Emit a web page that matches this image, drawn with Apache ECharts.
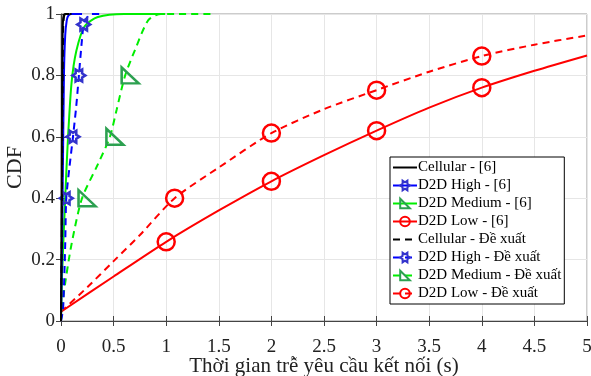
<!DOCTYPE html>
<html>
<head>
<meta charset="utf-8">
<script src="https://cdn.jsdelivr.net/npm/echarts@6/dist/echarts.min.js"></script>
<style>
html, body { margin: 0; padding: 0; background: #fff; }
#main { width: 591px; height: 376px; }
</style>
</head>
<body>
<div id="main"></div>
<script>
var myChart = echarts.init(document.getElementById('main'));

var xTicks = [0, 0.5, 1, 1.5, 2, 2.5, 3, 3.5, 4, 4.5, 5];
var yTicks = [0, 0.2, 0.4, 0.6, 0.8, 1];

var names = [
    'Cellular - [6]',
    'D2D High - [6]',
    'D2D Medium - [6]',
    'D2D Low - [6]',
    'Cellular - Đề xuất',
    'D2D High - Đề xuất',
    'D2D Medium - Đề xuất',
    'D2D Low - Đề xuất'
];

// cac duong CDF [x, y]
var cellRef = [[0, 0], [0.005, 0.3], [0.01, 0.7], [0.016, 0.95], [0.025, 0.995], [0.04, 1], [0.08, 1]];
var highRef = [[0, 0], [0.015, 0.4], [0.028, 0.8], [0.04, 0.93], [0.055, 0.98], [0.07, 0.995], [0.1, 1], [0.2, 1]];
var medRef = [[0, 0], [0.01, 0.15], [0.035, 0.36], [0.05, 0.48], [0.067, 0.6], [0.1, 0.775], [0.146, 0.88],
    [0.225, 0.96], [0.35, 0.99], [0.6, 1], [0.99, 1]];
var lowRef = [[0, 0.03], [0.5, 0.145], [1, 0.258], [1.5, 0.36], [2, 0.455], [2.5, 0.54], [3, 0.62],
    [3.5, 0.695], [4, 0.76], [4.5, 0.815], [5, 0.865]];

var cellNew = [[0, 0], [0.008, 0.3], [0.014, 0.7], [0.02, 0.95], [0.03, 0.995], [0.05, 1], [0.1, 1]];
var highNew = [[0, 0], [0.02, 0.04], [0.04, 0.25], [0.05, 0.4], [0.08, 0.5], [0.114, 0.6], [0.145, 0.7],
    [0.17, 0.8], [0.195, 0.9], [0.216, 0.966], [0.25, 0.99], [0.28, 1], [0.38, 1]];
var medNew = [[0, 0], [0.03, 0.1], [0.1, 0.25], [0.2, 0.4], [0.35, 0.51], [0.465, 0.6], [0.53, 0.69],
    [0.61, 0.8], [0.7, 0.88], [0.83, 0.98], [0.95, 1], [1.45, 1]];
var lowNew = [[0, 0.03], [0.25, 0.11], [0.5, 0.195], [0.75, 0.28], [1.08, 0.4], [1.5, 0.5], [2, 0.612],
    [2.5, 0.69], [3, 0.752], [3.5, 0.812], [4, 0.863], [4.5, 0.9], [5, 0.93]];

// vi tri marker (chi so diem)
var marks = [[], [], [], [2, 4, 6, 8], [], [3, 5, 7, 9], [3, 5, 7], [4, 6, 8, 10]];

var lines = [cellRef, highRef, medRef, lowRef, cellNew, highNew, medNew, lowNew];
var lineColors = ['#000000', '#0000ff', '#00ee00', '#ff0000', '#000000', '#0000ff', '#00ee00', '#ff0000'];
var markColors = ['#000000', '#3333cc', '#2ca050', '#ff0000', '#000000', '#3333cc', '#2ca050', '#ff0000'];

var star = 'path://M10,0 L5,2.89 L5,8.66 L0,5.77 L-5,8.66 L-5,2.89 L-10,0 L-5,-2.89 L-5,-8.66 L0,-5.77 L5,-8.66 L5,-2.89 Z';
var tri = 'path://M0,0 L0,10 L10,10 Z';
var symbols = ['none', star, tri, 'circle', 'none', star, tri, 'circle'];
var sizes = [0, [13, 12], [17, 16], 17, 0, [13, 12], [17, 16], 17];
var offsets = [0, 0, 5, 0, 0, 0, 5, 0];

var series = [];
for (var i = 0; i < 8; i++) {
    var pts = lines[i].map(function (p, j) {
        var m = marks[i].indexOf(j) >= 0;
        return { value: p, symbol: m ? symbols[i] : 'none' };
    });
    series.push({
        name: names[i],
        type: 'line',
        data: pts,
        smooth: 0.25,
        showAllSymbol: true,
        symbol: symbols[i],
        symbolSize: sizes[i],
        symbolOffset: [offsets[i], 0],
        z: 10 - (i % 4),
        lineStyle: { color: lineColors[i], width: 2, type: i >= 4 ? [7, 5] : 'solid' },
        itemStyle: { color: 'rgba(255,255,255,0)', borderColor: markColors[i], borderWidth: 2.5 },
        emphasis: { disabled: true }
    });
}

var legendData = names.map(function (n, i) {
    if (i % 4 === 0) {
        return { name: n, itemStyle: { color: 'rgba(0,0,0,0)', borderWidth: 0 } };
    }
    return { name: n };
});

var option = {
    backgroundColor: '#fff',
    animation: false,
    textStyle: { fontFamily: 'Liberation Serif' },
    grid: {
        left: 61, right: 4, top: 14, bottom: 55,
        containLabel: false, outerBoundsMode: 'none',
        show: true, borderColor: '#999', borderWidth: 1
    },
    legend: {
        orient: 'vertical',
        left: 390,
        top: 157,
        width: 176,
        padding: [3, 3, 3, 2],
        itemWidth: 24,
        itemHeight: 12,
        itemGap: 3,
        backgroundColor: '#fff',
        borderColor: '#000',
        borderWidth: 1,
        textStyle: { fontFamily: 'Liberation Serif', fontSize: 15, lineHeight: 14, color: '#000', padding: [0, 0, 0, -4] },
        data: legendData
    },
    xAxis: [{
        type: 'value',
        min: 0, max: 5, interval: 0.5,
        name: 'Thời gian trễ yêu cầu kết nối (s)',
        nameLocation: 'middle',
        nameGap: 35,
        nameMoveOverlap: false,
        nameTextStyle: { fontFamily: 'Liberation Serif', fontSize: 21, color: '#222' },
        axisLine: { lineStyle: { color: '#444' } },
        axisTick: { inside: true, length: 5, lineStyle: { color: '#444' } },
        axisLabel: { fontSize: 19, color: '#222', margin: 17, formatter: function (v) { return String(v); } },
        splitLine: { lineStyle: { color: '#e6e6e6' } }
    }, {
        type: 'value', position: 'top', min: 0, max: 5, interval: 0.5,
        axisLine: { show: false }, axisLabel: { show: false }, splitLine: { show: false },
        axisTick: { inside: true, length: 5, lineStyle: { color: '#444' } }
    }],
    yAxis: [{
        type: 'value',
        min: 0, max: 1, interval: 0.2,
        name: 'CDF',
        nameLocation: 'middle',
        nameGap: 35,
        nameMoveOverlap: false,
        nameTextStyle: { fontFamily: 'Liberation Serif', fontSize: 22, color: '#222' },
        axisLine: { show: true, lineStyle: { color: '#444' } },
        axisTick: { show: true, inside: true, length: 5, lineStyle: { color: '#444' } },
        axisLabel: { fontSize: 19, color: '#222', margin: 6, formatter: function (v) { return String(v); } },
        splitLine: { lineStyle: { color: '#e6e6e6' } }
    }, {
        type: 'value', position: 'right', min: 0, max: 1, interval: 0.2,
        axisLine: { show: false }, axisLabel: { show: false }, splitLine: { show: false },
        axisTick: { show: true, inside: true, length: 5, lineStyle: { color: '#444' } }
    }],
    series: series
};

myChart.setOption(option);
</script>
</body>
</html>
